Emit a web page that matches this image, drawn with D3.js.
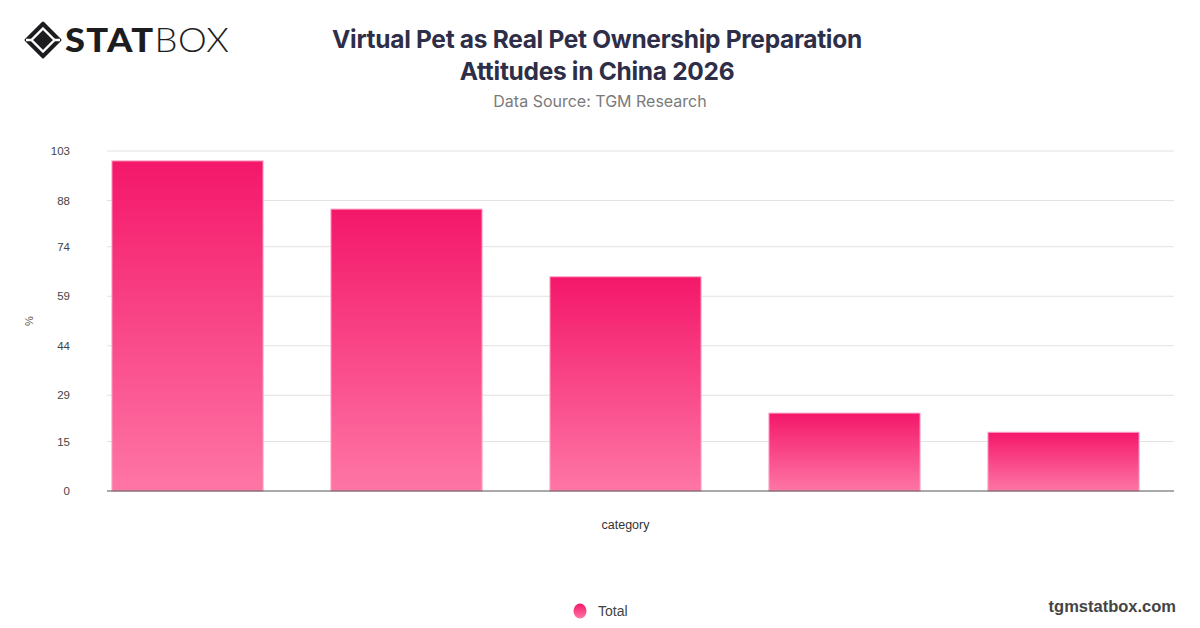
<!DOCTYPE html>
<html lang="en">
<head>
    <meta charset="UTF-8">
    <title>Virtual Pet as Real Pet Ownership Preparation Attitudes in China 2026</title>
    <style>
        body { margin: 0; background: #fff; }
        svg { display: block; }
    </style>
</head>
<body>
    <svg id="chart" width="1200" height="628"></svg>
    <script src="https://d3js.org/d3.v7.min.js"></script>
    <script>
        // Chart data
        const categories = ["A", "B", "C", "D", "E"];
        const totals = [100, 85.4, 64.9, 23.6, 17.8];
        const tickValues = [0, 15, 29, 44, 59, 74, 88, 103];
        const yMax = 103;

        const svg = d3.select("#chart");

        // Gradients for bars and the legend dot
        const defs = svg.append("defs");
        const grad = defs.append("linearGradient")
            .attr("id", "barGrad")
            .attr("x1", 0).attr("y1", 0).attr("x2", 0).attr("y2", 1);
        grad.append("stop").attr("offset", "0%").attr("stop-color", "#f4176a");
        grad.append("stop").attr("offset", "100%").attr("stop-color", "#fe76a5");

        // Logo
        const logo = svg.append("g").attr("transform", "translate(43,40)");
        logo.append("path")
            .attr("d", "M0,-17 L17,0 L0,17 L-17,0 Z")
            .attr("fill", "#1d1d1f")
            .attr("stroke", "#1d1d1f")
            .attr("stroke-width", 3)
            .attr("stroke-linejoin", "round");
        logo.append("path")
            .attr("d", "M0,-11.5 L11.5,0 L0,11.5 L-11.5,0 Z")
            .attr("fill", "none")
            .attr("stroke", "#fff")
            .attr("stroke-width", 2.4);
        logo.append("path")
            .attr("d", "M-17,0 L-11.5,0 M17,0 L11.5,0")
            .attr("stroke", "#fff")
            .attr("stroke-width", 2.4);
        svg.append("text")
            .attr("transform", "translate(65,52) scale(1.1,1)")
            .style("font-family", "Lato, 'DejaVu Sans', sans-serif")
            .style("font-weight", 900)
            .style("font-size", "33px")
            .style("letter-spacing", "1.2px")
            .attr("fill", "#1d1d1f")
            .text("STAT")
          .append("tspan")
            .style("font-weight", 300)
            .style("letter-spacing", "0.6px")
            .text("BOX");

        // Titles
        const title = svg.append("text")
            .attr("text-anchor", "middle")
            .style("font-family", "Inter, 'Open Sans', sans-serif")
            .style("font-weight", 700)
            .style("font-size", "24.5px")
            .style("letter-spacing", "-0.3px")
            .attr("fill", "#2e2e48");
        title.append("tspan").attr("x", 597).attr("y", 48).text("Virtual Pet as Real Pet Ownership Preparation");
        title.append("tspan").attr("x", 597).attr("y", 80).text("Attitudes in China 2026");

        svg.append("text")
            .attr("x", 600).attr("y", 107)
            .attr("text-anchor", "middle")
            .style("font-family", "Inter, 'Open Sans', sans-serif")
            .style("font-size", "16px")
            .attr("fill", "#7a7a7a")
            .text("Data Source: TGM Research");

        // Scales
        const gridLeft = 107, gridRight = 1174;
        const x = d3.scaleBand()
            .domain(categories)
            .range([78, 1173])
            .paddingInner(0.31)
            .paddingOuter(0.155);
        const y = d3.scaleLinear()
            .domain([0, yMax])
            .range([491, 151]);

        // Gridlines and y labels
        const yAxis = svg.append("g")
            .call(d3.axisLeft(y).tickValues(tickValues).tickSize(0).tickPadding(0))
            .attr("transform", "translate(70,0)");
        yAxis.select(".domain").remove();
        yAxis.selectAll("text")
            .style("font-family", "'Liberation Sans', Arial, sans-serif")
            .style("font-size", "11.5px")
            .attr("fill", "#444");

        svg.append("g")
            .selectAll("line")
            .data(tickValues.filter(d => d > 0))
            .join("line")
            .attr("x1", gridLeft).attr("x2", gridRight)
            .attr("y1", d => y(d)).attr("y2", d => y(d))
            .attr("stroke", "#e2e2e2")
            .attr("stroke-width", 1);

        // Bars
        svg.append("g")
            .selectAll("rect")
            .data(totals)
            .join("rect")
            .attr("x", (d, i) => x(categories[i]))
            .attr("y", d => y(d))
            .attr("width", x.bandwidth())
            .attr("height", d => y(0) - y(d))
            .attr("fill", "url(#barGrad)")
            .attr("stroke", "#fba3c4")
            .attr("stroke-width", 1);

        // Baseline
        svg.append("line")
            .attr("x1", gridLeft).attr("x2", gridRight)
            .attr("y1", y(0)).attr("y2", y(0))
            .attr("stroke", "#555")
            .attr("stroke-width", 1.2);

        // Axis titles
        svg.append("text")
            .attr("transform", "translate(33,321) rotate(-90)")
            .attr("text-anchor", "middle")
            .style("font-family", "'Liberation Sans', Arial, sans-serif")
            .style("font-size", "11px")
            .attr("fill", "#555")
            .text("%");

        svg.append("text")
            .attr("x", (78 + 1173) / 2).attr("y", 529)
            .attr("text-anchor", "middle")
            .style("font-family", "'Liberation Sans', Arial, sans-serif")
            .style("font-size", "12.5px")
            .attr("fill", "#333")
            .text("category");

        // Legend
        svg.append("ellipse")
            .attr("cx", 580).attr("cy", 611)
            .attr("rx", 6.5).attr("ry", 7.5)
            .attr("fill", "url(#barGrad)");
        svg.append("text")
            .attr("x", 598).attr("y", 616)
            .style("font-family", "'Liberation Sans', Arial, sans-serif")
            .style("font-size", "14px")
            .attr("fill", "#444")
            .text("Total");

        // Footer
        svg.append("text")
            .attr("x", 1176).attr("y", 612)
            .attr("text-anchor", "end")
            .style("font-family", "'Liberation Sans', Arial, sans-serif")
            .style("font-weight", 700)
            .style("font-size", "16.5px")
            .attr("fill", "#444")
            .text("tgmstatbox.com");
    </script>
</body>
</html>
